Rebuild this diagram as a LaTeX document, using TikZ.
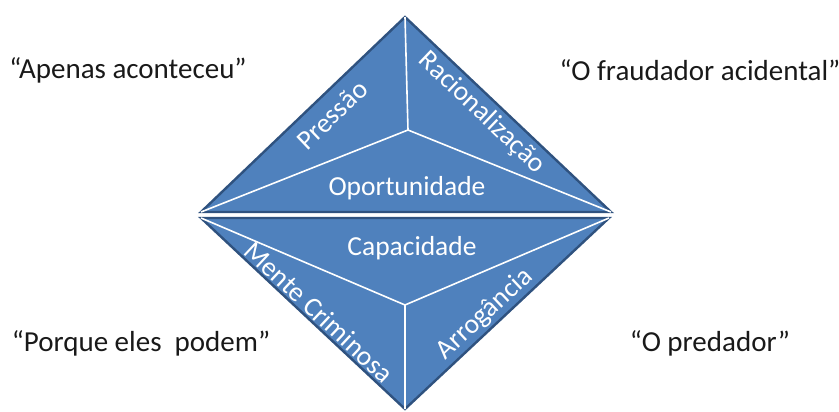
\documentclass[tikz,border=0pt]{standalone}
\usepackage{fontspec}
\setmainfont{Carlito}
\definecolor{pyfill}{HTML}{4F81BD}
\definecolor{pyedge}{HTML}{2F527F}
\begin{document}
\begin{tikzpicture}[x=1pt,y=-1pt,
  face/.style={fill=pyfill,draw=pyedge,line width=2.4pt,line join=miter},
  ridge/.style={draw=white,line width=1.6pt},
  quote/.style={font=\fontsize{29}{32}\selectfont,text=black!90,inner sep=0pt},
  inner/.style={font=\fontsize{27.5}{30}\selectfont,text=white,inner sep=0pt}]
\useasboundingbox (0,0) rectangle (839,412);
% upper pyramid
\coordinate (ut) at (405,17);
\coordinate (ul) at (201,212);
\coordinate (ur) at (611,212);
\coordinate (uc) at (408,130);
\draw[face] (ut) -- (ur) -- (ul) -- cycle;
\draw[ridge] (ut) -- (uc) (ul) -- (uc) -- (ur);
% lower pyramid
\coordinate (ll) at (201,218);
\coordinate (lr) at (609,218);
\coordinate (lb) at (405,409);
\coordinate (lc) at (405,305);
\draw[face] (ll) -- (lr) -- (lb) -- cycle;
\draw[ridge] (lb) -- (lc) (ll) -- (lc) -- (lr);
% face labels
\node[inner] (opo) at (407,188) {Oportunidade};
\node[inner] (cap) at (412,248) {Capacidade};
\node[inner,rotate=43.6] (pre) at (332,115) {Pressão};
\node[inner,rotate=-43.6] (rac) at (482,113) {Racionalização};
\node[inner,rotate=-43.1] (men) at (319,312) {Mente Criminosa};
\node[inner,rotate=43.1] (arr) at (485,314) {Arrogância};
% quotes
\node[quote] (q1) at (128,70) {“Apenas aconteceu”};
\node[quote] (q2) at (700,70) {“O fraudador acidental”};
\node[quote] (q3) at (141,343) {“Porque eles\ \ podem”};
\node[quote] (q4) at (710,343) {“O predador”};
\end{tikzpicture}
\end{document}
